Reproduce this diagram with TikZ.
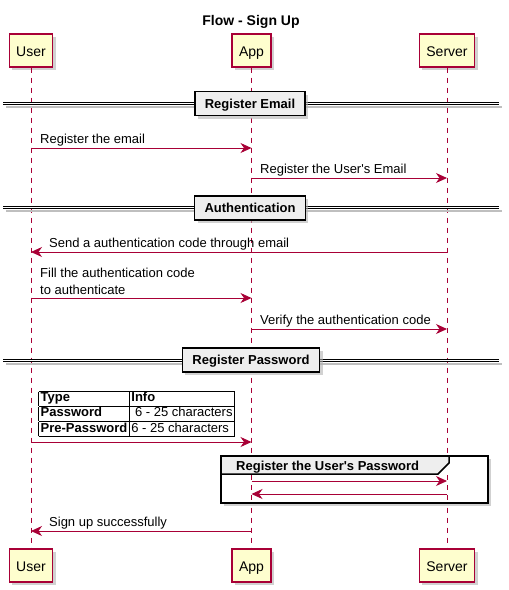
\documentclass[tikz,border=0pt]{standalone}
\usepackage{fontspec}
\setmainfont{Liberation Sans}[Ligatures=TeXOff]
\usetikzlibrary{arrows.meta,shadows}
\definecolor{pumlred}{HTML}{A80036}
\definecolor{pumlyel}{HTML}{FEFECE}
\definecolor{pumlgray}{HTML}{EEEEEE}
\begin{document}
\begin{tikzpicture}[x=1pt,y=-1pt,
  shad/.style={drop shadow={shadow xshift=3pt,shadow yshift=-3pt,fill=black!30,opacity=.6}},
  part/.style={draw=pumlred,fill=pumlyel,line width=1.2pt,minimum height=33pt,inner xsep=7pt,inner ysep=0pt,
    text height=14pt,text depth=3pt,font=\fontsize{14}{16}\selectfont,shad},
  life/.style={draw=pumlred,line width=0.8pt,dash pattern=on 5pt off 5pt},
  sepline/.style={draw=black,line width=1pt,double=white,double distance=1.2pt},
  sepshadow/.style={draw=black!25,line width=2pt},
  sepbox/.style={draw=black,fill=pumlgray,line width=1.5pt,minimum height=24pt,inner xsep=10pt,inner ysep=0pt,
    text height=12pt,text depth=3pt,font=\bfseries\fontsize{13}{15}\selectfont,shad},
  msg/.style={draw=pumlred,line width=0.9pt,-{Stealth[length=11pt,width=10pt,inset=3.5pt]}},
  lbl/.style={anchor=base west,inner sep=0pt,font=\fontsize{13}{17}\selectfont},
  frame/.style={draw=black,line width=1.5pt}]
\useasboundingbox (0,0) rectangle (509,590);

% title
\node[anchor=base,inner sep=0pt,font=\bfseries\fontsize{14}{16}\selectfont] (title) at (251,25) {Flow - Sign Up};

% participants
\node[part] (ut) at (31,50.5) {User};
\node[part] (at) at (251.5,50.5) {App};
\node[part] (st) at (447,50.5) {Server};
\node[part] (ub) at (31,565.5) {User};
\node[part] (ab) at (251.5,565.5) {App};
\node[part] (sb) at (447,565.5) {Server};

% lifelines
\draw[life] (ut.south) -- (ub.north);
\draw[life] (at.south) -- (ab.north);
\draw[life] (st.south) -- (sb.north);

% separator 1
\draw[sepshadow] (6,107) -- (502,107);
\draw[sepline] (3,103.7) -- (499,103.7);
\node[sepbox] (sep1) at (250,103.5) {Register Email};

% messages
\draw[msg] (ut.south |- 0,148) -- (at.south |- 0,148);
\node[lbl] (m1) at (40,143) {Register the email};
\draw[msg] (at.south |- 0,178) -- (st.south |- 0,178);
\node[lbl] (m2) at (260,173) {Register the User's Email};

% separator 2
\draw[sepshadow] (6,211) -- (502,211);
\draw[sepline] (3,207.7) -- (499,207.7);
\node[sepbox] (sep2) at (250,208) {Authentication};

\draw[msg] (st.south |- 0,252) -- (ut.south |- 0,252);
\node[lbl] (m3) at (49,247) {Send a authentication code through email};
\draw[msg] (ut.south |- 0,298) -- (at.south |- 0,298);
\node[lbl,align=left] (m4) at (40,294.5) {Fill the authentication code\\to authenticate};
\draw[msg] (at.south |- 0,329) -- (st.south |- 0,329);
\node[lbl] (m5) at (260,324) {Verify the authentication code};

% separator 3
\draw[sepshadow] (6,364) -- (502,364);
\draw[sepline] (3,360.7) -- (499,360.7);
\node[sepbox] (sep3) at (251,360) {Register Password};

% table message
\node[anchor=south west,inner sep=0pt,font=\fontsize{13}{15}\selectfont] (tbl) at (38.5,437.5) {%
  \setlength\arrayrulewidth{1pt}\setlength\tabcolsep{2pt}\renewcommand\arraystretch{0.95}%
  \begin{tabular}{|l|l|}\hline
  \textbf{Type} & \textbf{Info}\\\hline
  \textbf{Password} & \ 6 - 25 characters\\\hline
  \textbf{Pre-Password} & 6 - 25 characters\\\hline
  \end{tabular}};
\draw[msg] (ut.south |- 0,442) -- (at.south |- 0,442);

% group
\fill[black!30,opacity=.6] (224,459) rectangle (491,506);
\fill[white] (221,456) rectangle (488,503);
\fill[pumlgray] (221,456) -- (449,456) -- (449,463) -- (438,474) -- (221,474) -- cycle;
\draw[frame] (221,474) -- (438,474) -- (449,463) -- (449,456);
\draw[frame] (221,456) rectangle (488,503);
\node[anchor=base west,inner sep=0pt,font=\bfseries\fontsize{13}{15}\selectfont] (grp) at (236,470.5) {Register the User's Password};
\draw[life] (at.south |- 0,475) -- (at.south |- 0,502);
\draw[life] (st.south |- 0,475) -- (st.south |- 0,502);
\draw[msg] (at.south |- 0,481) -- (st.south |- 0,481);
\draw[msg] (st.south |- 0,494) -- (at.south |- 0,494);

\draw[msg] (at.south |- 0,531) -- (ut.south |- 0,531);
\node[lbl] (m9) at (49,526) {Sign up successfully};
\end{tikzpicture}
\end{document}
